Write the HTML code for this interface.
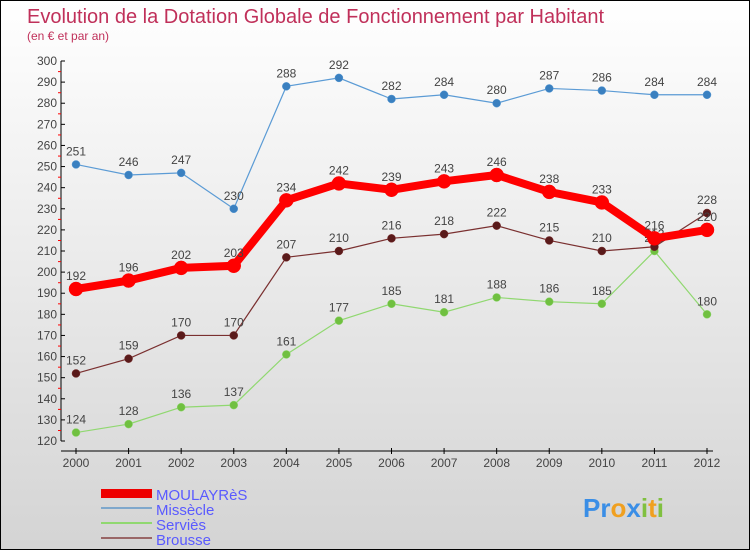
<!DOCTYPE html>
<html><head><meta charset="utf-8"><style>
body{margin:0}
#w{width:748px;height:548px;border:1px solid #000;background:linear-gradient(#fff,#d4d4d4);position:relative;font-family:"Liberation Sans",sans-serif;overflow:hidden}
text{font-family:"Liberation Sans",sans-serif}
</style></head><body>
<div id="w">
<svg id="s" width="748" height="548">
<text x="26" y="22" font-size="20" fill="#c0305a">Evolution de la Dotation Globale de Fonctionnement par Habitant</text>
<text x="26" y="39" font-size="12" fill="#c0305a">(en € et par an)</text>
<g id="ax"></g><g id="ser"></g>
<g>
<rect x="100" y="488" width="51" height="9" fill="#e00"/>
<text x="155" y="499" font-size="15" fill="#5a5aff">MOULAYRèS</text>
<line x1="100" y1="507" x2="151" y2="507" stroke="#7fa8cc" stroke-width="2"/>
<text x="155" y="514" font-size="15" fill="#5a5aff">Missècle</text>
<line x1="100" y1="522" x2="151" y2="522" stroke="#90d870" stroke-width="2"/>
<text x="155" y="529" font-size="15" fill="#5a5aff">Serviès</text>
<line x1="100" y1="537" x2="151" y2="537" stroke="#996666" stroke-width="2"/>
<text x="155" y="544" font-size="15" fill="#5a5aff">Brousse</text>
</g>
<text x="582" y="516" font-size="26" font-weight="bold"><tspan fill="#3a8ee6">Pr</tspan><tspan fill="#f0a020">o</tspan><tspan fill="#3a8ee6">x</tspan><tspan fill="#80c040">i</tspan><tspan fill="#f0a020">t</tspan><tspan fill="#80c040">i</tspan></text>
</svg></div>
<script>
const years=[2000,2001,2002,2003,2004,2005,2006,2007,2008,2009,2010,2011,2012];
const yTicks=[120,130,140,150,160,170,180,190,200,210,220,230,240,250,260,270,280,290,300];
const missecle=[251,246,247,230,288,292,282,284,280,287,286,284,284];
const servies=[124,128,136,137,161,177,185,181,188,186,185,210,180];
const brousse=[152,159,170,170,207,210,216,218,222,215,210,212,228];
const moulayres=[192,196,202,203,234,242,239,243,246,238,233,216,220];
const NS="http://www.w3.org/2000/svg";
function X(i){return 75+i*(706-75)/(years.length-1);}
function Y(v){return 60+(300-v)*380/180;}
function mk(t,a,p){const e=document.createElementNS(NS,t);for(const k in a)e.setAttribute(k,a[k]);p.appendChild(e);return e;}
const ax=document.getElementById('ax');
mk('line',{x1:60,y1:60,x2:60,y2:440,stroke:'#000'},ax);
mk('line',{x1:60,y1:450,x2:712,y2:450,stroke:'#000'},ax);
yTicks.forEach(v=>{const y=Y(v);
 mk('line',{x1:60,y1:y,x2:64,y2:y,stroke:'#000'},ax);
 if(v<300)mk('line',{x1:57,y1:y-10.5,x2:60,y2:y-10.5,stroke:'#f00'},ax);
 const t=mk('text',{x:56,y:y+4,'font-size':12,fill:'#444','text-anchor':'end'},ax);t.textContent=v;
 });
years.forEach((yr,i)=>{const x=X(i);
 mk('line',{x1:x,y1:447,x2:x,y2:453,stroke:'#000'},ax);
 const t=mk('text',{x:x,y:466,'font-size':12,fill:'#444','text-anchor':'middle'},ax);t.textContent=yr;
 });
const ser=document.getElementById('ser');
function draw(name,data,col,mcol,w,r){
 const g=mk('g',{},ser);
 mk('polyline',{points:data.map((v,i)=>X(i)+','+Y(v)).join(' '),fill:'none',stroke:col,'stroke-width':w},g);
 data.forEach((v,i)=>{const c=mk('circle',{cx:X(i),cy:Y(v),r:r,fill:mcol,stroke:col,'stroke-width':0.5},g);
  
  const t=mk('text',{x:X(i),y:Y(v)-9,'font-size':12,fill:'#444','text-anchor':'middle'},g);t.textContent=v;
  });
}
draw('missecle',missecle,'#5b9bd5','#3a80c0',1.2,4);
draw('servies',servies,'#90d870','#70c040',1.2,4);
draw('brousse',brousse,'#7a3030','#5a1a1a',1.2,4);
draw('moulayres',moulayres,'#f00','#f00',8,7);
</script>
</body></html>
